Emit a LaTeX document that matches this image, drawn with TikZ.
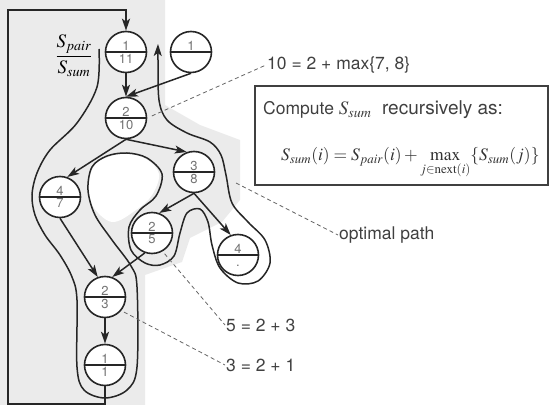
\documentclass[tikz,border=0pt]{standalone}
\usepackage{mathptmx}
\usepackage[no-math]{fontspec}
\setsansfont{TeX Gyre Heros}
\usetikzlibrary{shapes.multipart,arrows.meta,positioning}

\begin{document}
\begin{tikzpicture}[
    x=1pt, y=-1pt,
    font=\sffamily,
    state/.style={circle split, draw=black!85, fill=white, line width=1.6pt, minimum size=41pt, inner sep=1pt, font=\sffamily\fontsize{13}{13}\selectfont, text=black!55},
    arr/.style={-{Stealth[length=12pt,width=8pt,inset=3pt]}, line width=1.5pt, draw=black!85},
    note/.style={dash pattern=on 4pt off 3pt, line width=0.8pt, draw=black!60},
    lbl/.style={anchor=west, inner sep=1pt, font=\sffamily\fontsize{17.5}{20}\selectfont, text=black!75}
]
    \useasboundingbox (0,0) rectangle (549,411);

    % Grauer Hintergrund
    \fill[black!8] (0,0) -- (165,0) -- (165,105) -- (200,125) -- (240,140) -- (240,200) -- (222,222)
        -- (190,238) -- (182,262) -- (145,275) -- (145,405) -- (0,405) -- cycle;
    \fill[white] plot[smooth cycle, tension=0.6] coordinates {(92,205) (89,185) (94,166) (108,157) (127,154) (146,159) (159,174) (152,195) (136,210) (112,222)};

    % Zustaende
    \node[state] (a1) at (126,52) {1 \nodepart{lower} 11};
    \node[state] (a0) at (191,52) {1 \nodepart{lower} \phantom{1}};
    \node[state] (a2) at (126,118) {2 \nodepart{lower} 10};
    \node[state] (a3) at (194,172) {3 \nodepart{lower} 8};
    \node[state] (a4) at (60,197) {4 \nodepart{lower} 7};
    \node[state] (a5) at (152,233) {2 \nodepart{lower} 5};
    \node[state] (a6) at (238,255) {4 \nodepart{lower} .\vphantom{1}};
    \node[state] (a7) at (105,297) {2 \nodepart{lower} 3};
    \node[state] (a8) at (105,365) {1 \nodepart{lower} 1};

    \node (frac) at (74,56) {\fontsize{19}{20}\selectfont $\displaystyle\frac{S_{pair}}{S_{sum}}$};

    % Kanten
    \draw[arr] (a1) -- (a2);
    \draw[arr] (a0.south) -- (a2.north);
    \draw[arr] (a2.south) -- (a3.110);
    \draw[arr] (a2.south) -- (a4.70);
    \draw[arr] (a3.south) -- (a5.70);
    \draw[arr] (a3.south) -- (a6.110);
    \draw[arr] (a4.south) -- (a7.110);
    \draw[arr] (a5.250) -- (a7.70);
    \draw[arr] (a7) -- (a8);

    % Rueckfuehrung
    \coordinate (fbl) at (8,404);
    \coordinate (ftl) at (8,10);
    \draw[arr, line width=1.9pt] (a8.south) |- (fbl) -- (ftl) -| (a1.north);

    % optimaler Pfad
    \draw[arr] plot[smooth, tension=0.55] coordinates {
        (99,49) (97,87) (77,123) (50,150) (37,173) (32,195) (35,215) (45,235) (60,255) (72,277)
        (77,300) (77,367) (84,390) (105,398) (127,390) (137,367) (137,287) (131,266) (112,240)
        (95,215) (88,190) (92,167) (107,156) (127,153) (147,158) (162,174) (156,196) (140,210)
        (129,227) (131,250) (145,263) (160,265) (174,256) (180,233) (187,213) (200,209) (208,222)
        (212,245) (220,268) (238,283) (258,281) (270,263) (265,240) (248,222) (232,203) (226,175)
        (221,155) (210,142) (187,133) (167,120) (159,100) (158,60) (158,44)};

    % Rechenbox
    \node[draw=black!75, line width=1.3pt, minimum width=293pt, minimum height=99pt] (box) at (401.5,135.5) {};
    \node[lbl] (cmp) at (262,110) {Compute \fontsize{19}{20}\selectfont$S_{sum}$\ \ recursively as:};
    \node[anchor=west, inner sep=1pt, text=black!80] (eq) at (280,163) {\fontsize{17.5}{18}\selectfont
        $S_{sum}(i) = S_{pair}(i) + \displaystyle\max_{j\in \mathrm{next}(i)}\{S_{sum}(j)\}$};

    % Anmerkungen
    \node[lbl] (l10) at (266,65) {10 = 2 + max\{7, 8\}};
    \node[lbl] (lopt) at (338,235) {optimal path};
    \node[lbl] (l5) at (225,325) {5 = 2 + 3};
    \node[lbl] (l3) at (225,365) {3 = 2 + 1};
    \coordinate (optc) at (236,183);

    \draw[note, shorten <=5pt] (a2.east) -- (l10.west);
    \draw[note] (optc) -- (lopt.west);
    \draw[note, shorten <=3pt] (a5.300) -- (l5.west);
    \draw[note, shorten <=3pt] (a7.320) -- (l3.west);

\end{tikzpicture}
\end{document}
